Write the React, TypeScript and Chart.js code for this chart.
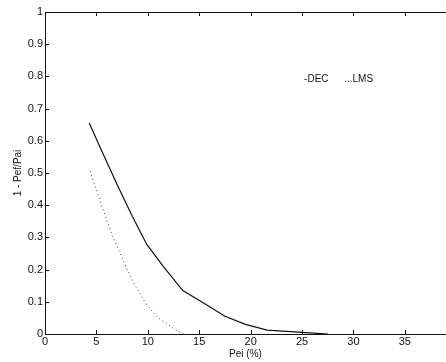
import React, { useEffect, useRef } from "react";
import { Chart, registerables } from "chart.js";

Chart.register(...registerables);

const decX = [4.3, 5.5, 7.0, 8.5, 9.9, 11.5, 13.4, 15.5, 17.5, 19.5, 21.6, 25.4, 27.5];
const decY = [0.655, 0.57, 0.465, 0.365, 0.278, 0.21, 0.135, 0.095, 0.055, 0.03, 0.012, 0.004, 0.0];
const lmsX = [4.4, 5.5, 6.5, 7.5, 8.5, 9.9, 11.0, 12.6, 13.5];
const lmsY = [0.505, 0.4, 0.31, 0.235, 0.165, 0.09, 0.05, 0.015, 0.0];
const legendText = ["-DEC", "...LMS"];
const xTitle = "Pei (%)";
const yTitle = "1 - Pef/Pai";

const FONT = "'Liberation Sans', Arial, sans-serif";

const frame = {
  id: "frame",
  afterDraw(chart: any) {
    const { ctx, chartArea: a, scales } = chart;
    const x = scales.x;
    const y = scales.y;
    ctx.save();
    ctx.strokeStyle = "#111";
    ctx.lineWidth = 1;
    ctx.beginPath();
    ctx.moveTo(a.left + 0.5, a.bottom + 0.5);
    ctx.lineTo(a.left + 0.5, a.top + 0.5);
    ctx.lineTo(a.right, a.top + 0.5);
    ctx.moveTo(a.left + 0.5, a.bottom + 0.5);
    ctx.lineTo(a.right, a.bottom + 0.5);
    x.ticks.forEach((t: any) => {
      const px = Math.round(x.getPixelForValue(t.value)) + 0.5;
      ctx.moveTo(px, a.bottom);
      ctx.lineTo(px, a.bottom - 4);
      ctx.moveTo(px, a.top);
      ctx.lineTo(px, a.top + 4);
    });
    y.ticks.forEach((t: any) => {
      const py = Math.round(y.getPixelForValue(t.value)) + 0.5;
      ctx.moveTo(a.left, py);
      ctx.lineTo(a.left + 4, py);
    });
    ctx.stroke();
    ctx.fillStyle = "#111";
    ctx.font = `10px ${FONT}`;
    ctx.textBaseline = "middle";
    ctx.textAlign = "left";
    ctx.fillText(legendText[0], x.getPixelForValue(25.2), y.getPixelForValue(0.79));
    ctx.fillText(legendText[1], x.getPixelForValue(29.1), y.getPixelForValue(0.79));
    ctx.restore();
  },
};

export default function App() {
  const ref = useRef<HTMLCanvasElement>(null);
  useEffect(() => {
    document.body.style.margin = "0";
    const chart = new Chart(ref.current!, {
      type: "scatter",
      data: {
        datasets: [
          {
            label: "DEC",
            data: decX.map((v, i) => ({ x: v, y: decY[i] })),
            showLine: true,
            borderColor: "#111",
            borderWidth: 1.2,
            pointRadius: 0,
            tension: 0,
          },
          {
            label: "LMS",
            data: lmsX.map((v, i) => ({ x: v, y: lmsY[i] })),
            showLine: true,
            borderColor: "#444",
            borderWidth: 1,
            borderDash: [1, 3],
            pointRadius: 0,
            tension: 0,
          },
        ],
      },
      options: {
        animation: false,
        responsive: false,
        maintainAspectRatio: false,
        layout: { padding: { top: 12, right: 0, left: 12, bottom: 0 } },
        plugins: { legend: { display: false }, tooltip: { enabled: false } },
        scales: {
          x: {
            type: "linear",
            min: 0,
            max: 39,
            afterBuildTicks: (s: any) => {
              s.ticks = s.ticks.filter((t: any) => t.value % 5 === 0);
            },
            ticks: { stepSize: 5, color: "#111", font: { family: FONT, size: 11 }, padding: 1, maxRotation: 0 },
            grid: { display: false, drawTicks: false },
            border: { display: false },
            title: { display: true, text: xTitle, color: "#111", font: { family: FONT, size: 10 }, padding: { top: 0, bottom: 2 } },
            afterFit: (s: any) => {
              s.height = 28;
            },
          },
          y: {
            type: "linear",
            min: 0,
            max: 1,
            ticks: {
              stepSize: 0.1,
              color: "#111",
              font: { family: FONT, size: 11 },
              padding: 2,
              callback: (v: any) => String(Number(Number(v).toFixed(1))),
            },
            grid: { display: false, drawTicks: false },
            border: { display: false },
            title: { display: true, text: yTitle, color: "#111", font: { family: FONT, size: 10 }, padding: { top: 0, bottom: 0 } },
            afterFit: (s: any) => {
              s.width = 33;
            },
          },
        },
      },
      plugins: [frame],
    });
    return () => chart.destroy();
  }, []);
  return (
    <div style={{ position: "absolute", left: 0, top: 0, width: 446, height: 362, background: "#fff" }}>
      <canvas ref={ref} width={446} height={362} />
    </div>
  );
}
